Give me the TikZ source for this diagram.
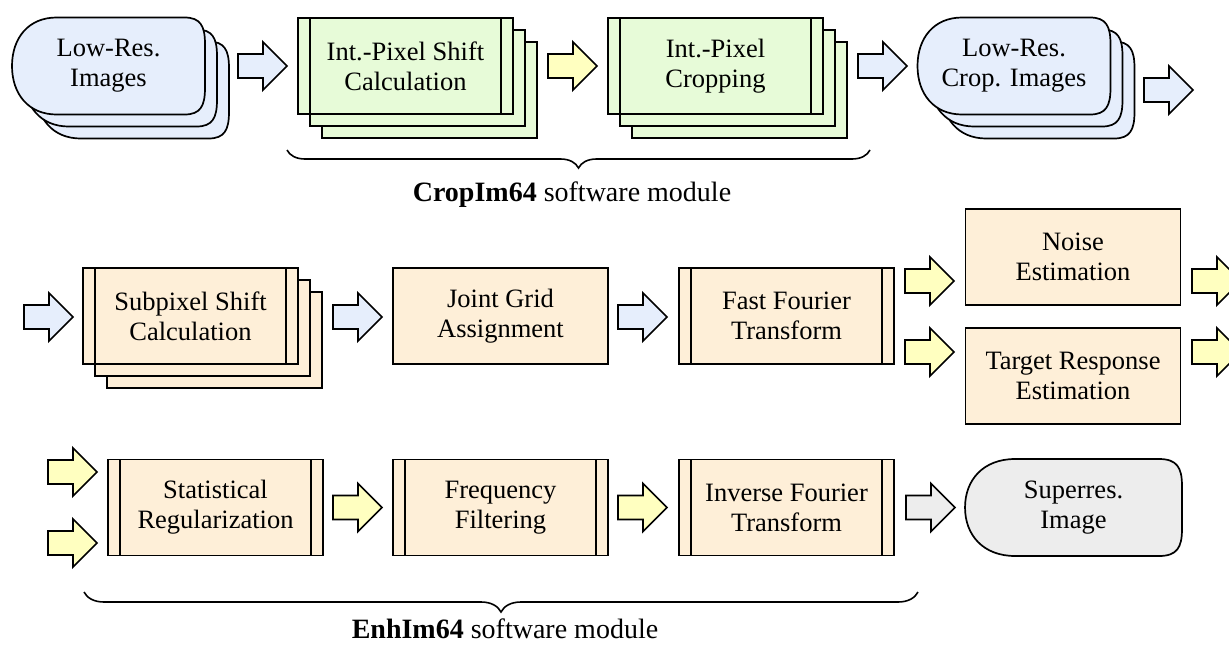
\documentclass[tikz,border=0pt]{standalone}
\usepackage{fontspec}
\setmainfont{Liberation Serif}
\usetikzlibrary{calc,decorations.pathreplacing}

\definecolor{blueF}{RGB}{230,238,252}
\definecolor{greenF}{RGB}{231,251,216}
\definecolor{peachF}{RGB}{254,239,216}
\definecolor{yellowF}{RGB}{255,255,192}
\definecolor{greyF}{RGB}{237,237,237}

\tikzset{
  outl/.style={line width=1.7pt, line join=miter},
  box/.style={draw, outl, minimum width=215pt, minimum height=96pt, inner sep=0pt},
  proc/.style={box, path picture={
      \draw[line width=1.3pt] ([xshift=12pt]path picture bounding box.north west) -- ([xshift=12pt]path picture bounding box.south west);
      \draw[line width=1.3pt] ([xshift=-12pt]path picture bounding box.north east) -- ([xshift=-12pt]path picture bounding box.south east);}},
  dispshape/.pic={
    \draw[outl, fill=#1] (-52,-48.5) -- (76,-48.5)
      .. controls (92,-48.5) and (96.5,-40) .. (96.5,-22) -- (96.5,22)
      .. controls (96.5,40) and (92,48.5) .. (76,48.5) -- (-52,48.5)
      .. controls (-80,48.5) and (-96.5,28) .. (-96.5,0)
      .. controls (-96.5,-28) and (-80,-48.5) .. (-52,-48.5) -- cycle;
  },
  fatarrow/.pic={
    \draw[outl, fill=#1] (0,-12) -- (25,-12) -- (25,-24) -- (49,0) -- (25,24) -- (25,12) -- (0,12) -- cycle;
  },
  modbrace/.style={draw, line width=1.6pt, decorate, decoration={brace, mirror, amplitude=#1}}
}

\begin{document}
\begin{tikzpicture}[x=1pt, y=-1pt,
    every node/.style={font=\fontsize{26.5}{30}\selectfont, align=center, text=black}]
  \useasboundingbox (0,0) rectangle (1229,646);

  % first row: CropIm64
  \foreach \d in {24,12,0} \pic at (108.5+\d,66+\d) {dispshape=blueF};
  \node (lrimg) at (108.5,66) {Low-Res.\\Images};
  \pic at (238,66) {fatarrow=blueF};
  \foreach \d/\n in {24/3,12/2} \node[box, fill=greenF] (ips\n) at (405.5+\d,66+\d) {};
  \node[proc, fill=greenF] (ips) at (405.5,66) {Int.-Pixel Shift\\Calculation};
  \pic at (548,66) {fatarrow=yellowF};
  \foreach \d/\n in {24/3,12/2} \node[box, fill=greenF] (ipc\n) at (715.5+\d,66+\d) {};
  \node[proc, fill=greenF] (ipc) at (715.5,66) {Int.-Pixel\\Cropping};
  \pic at (858,66) {fatarrow=blueF};
  \foreach \d in {24,12,0} \pic at (1014+\d,66+\d) {dispshape=blueF};
  \node (lrcrop) at (1014,66) {Low-Res.\\Crop. Images};
  \pic at (1144,90) {fatarrow=blueF};

  \draw[modbrace=18pt] (287,150) -- (870,150);
  \node[font=\fontsize{28}{32}\selectfont] (croplbl) at (572,195) {\textbf{CropIm64} software module};

  % second row
  \pic at (24,317) {fatarrow=blueF};
  \foreach \d/\n in {24/3,12/2} \node[box, fill=peachF] (spsc\n) at (190.5+\d,316+\d) {};
  \node[proc, fill=peachF] (spsc) at (190.5,316) {Subpixel Shift\\Calculation};
  \pic at (333,317) {fatarrow=blueF};
  \node[box, fill=peachF] (jga) at (500.5,316) {Joint Grid\\Assignment};
  \pic at (618,317) {fatarrow=blueF};
  \node[proc, fill=peachF] (fft) at (786.5,316) {Fast Fourier\\Transform};
  \pic at (905,281) {fatarrow=yellowF};
  \pic at (905,352) {fatarrow=yellowF};
  \node[box, fill=peachF] (noise) at (1073,257) {Noise\\Estimation};
  \node[box, fill=peachF] (tre) at (1073,376) {Target Response\\Estimation};
  \pic at (1192,281) {fatarrow=yellowF};
  \pic at (1192,352) {fatarrow=yellowF};

  % third row
  \pic at (48,472) {fatarrow=yellowF};
  \pic at (48,543) {fatarrow=yellowF};
  \node[proc, fill=peachF] (stat) at (215.5,507.5) {Statistical\\Regularization};
  \pic at (333,507.5) {fatarrow=yellowF};
  \node[proc, fill=peachF] (freq) at (500.5,507.5) {Frequency\\Filtering};
  \pic at (618,507.5) {fatarrow=yellowF};
  \node[proc, fill=peachF] (ift) at (786.5,507.5) {Inverse Fourier\\Transform};
  \pic at (906,507.5) {fatarrow=greyF};
  \pic[xscale=1.124] at (1073.5,507.5) {dispshape=greyF};
  \node (srimg) at (1073.5,507.5) {Superres.\\Image};

  \draw[modbrace=20pt] (84,592) -- (918,592);
  \node[font=\fontsize{28}{32}\selectfont] (enhlbl) at (505,629) {\textbf{EnhIm64} software module};
\end{tikzpicture}
\end{document}
